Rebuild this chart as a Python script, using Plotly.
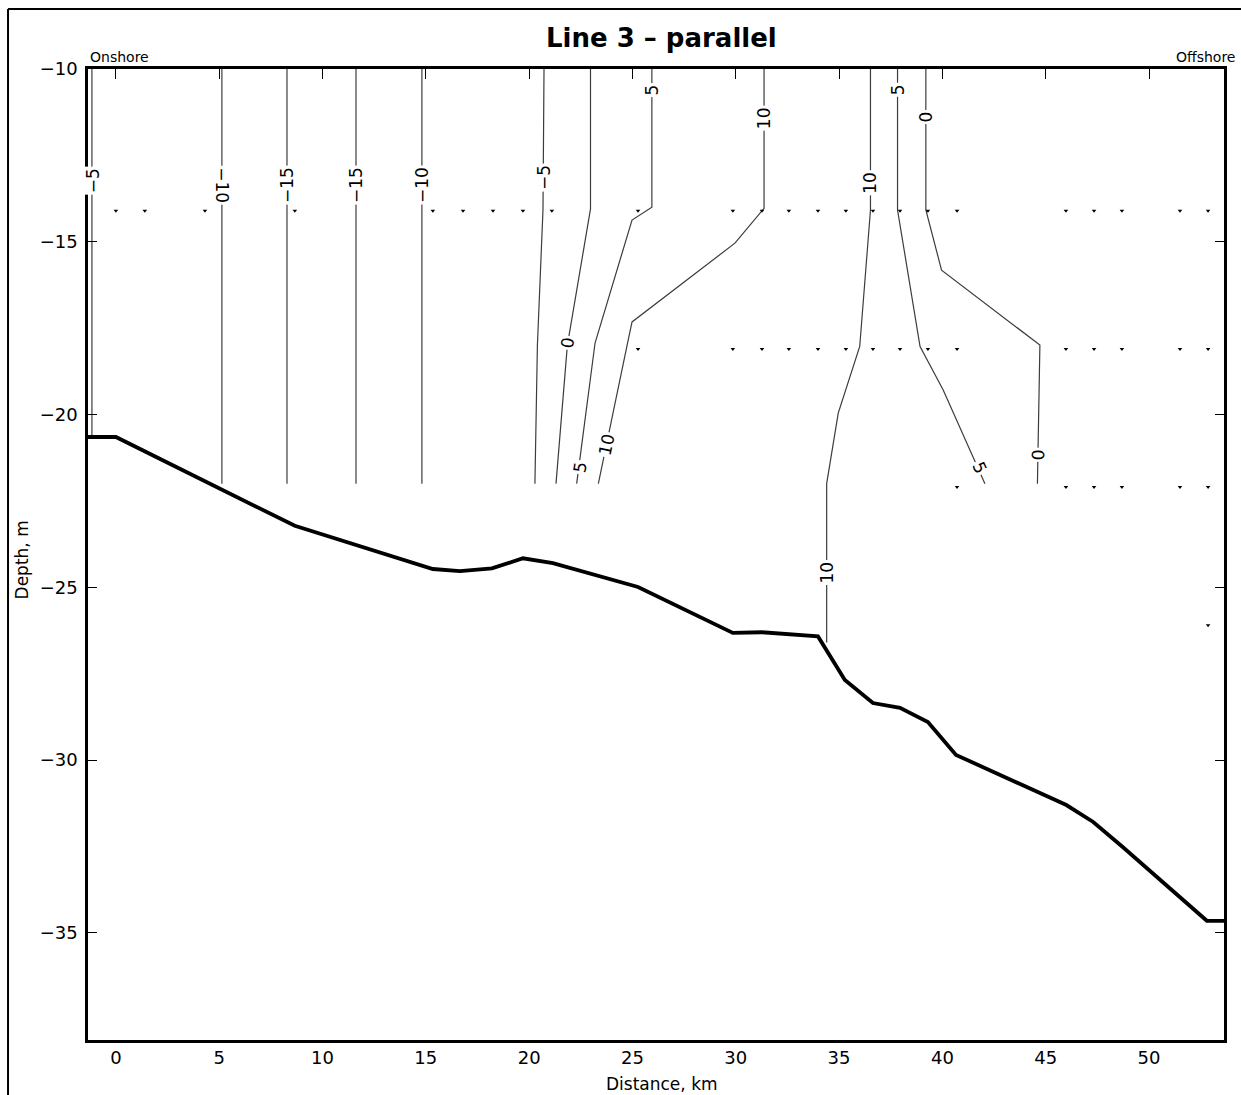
import plotly.graph_objects as go

# ---------------- data ----------------
# bathymetry (sea floor) profile
bathy_x = [-1.35, 0.0, 8.66, 15.34, 16.65, 18.2, 19.7, 21.15, 25.27, 29.86, 31.27,
           32.6, 33.98, 35.28, 36.64, 37.95, 39.3, 40.66, 46.0, 47.3, 48.7, 52.8, 53.63]
bathy_y = [-20.65, -20.65, -23.22, -24.47, -24.53, -24.45, -24.16, -24.3, -24.99, -26.32, -26.3,
           -26.35, -26.42, -27.68, -28.35, -28.49, -28.9, -29.85, -31.3, -31.79, -32.5, -34.65, -34.65]

# contour lines (level, x, y)
c1_x, c1_y = [-1.16, -1.16], [-10, -20.65]                     # -5
c2_x, c2_y = [5.13, 5.13], [-10, -22]                          # -10
c3_x, c3_y = [8.28, 8.28], [-10, -22]                          # -15
c4_x, c4_y = [11.62, 11.62], [-10, -22]                        # -15
c5_x, c5_y = [14.81, 14.81], [-10, -22]                        # -10
c6_x, c6_y = [20.72, 20.67, 20.4, 20.28], [-10, -14.08, -18, -22]          # -5
c7_x, c7_y = [22.97, 22.97, 21.85, 21.3], [-10, -14.05, -18.0, -22]        # 0
c8_x, c8_y = [25.94, 25.94, 24.98, 23.19, 22.3], [-10, -14.0, -14.37, -17.93, -22]   # 5
c9_x, c9_y = [31.37, 31.37, 29.96, 24.98, 24.74, 23.35], [-10, -14.03, -15.04, -17.32, -18, -22]  # 10
c10_x, c10_y = [36.52, 36.52, 36.0, 34.96, 34.4, 34.4], [-10, -14.08, -18.03, -19.96, -22, -26.6]  # 10
c11_x, c11_y = [37.83, 37.83, 38.92, 40.04, 42.06], [-10, -14.08, -18.03, -19.29, -22]            # 5
c12_x, c12_y = [39.2, 39.2, 39.96, 44.72, 44.6], [-10, -14.08, -15.82, -17.99, -22]               # 0

contour_xs = [c1_x, c2_x, c3_x, c4_x, c5_x, c6_x, c7_x, c8_x, c9_x, c10_x, c11_x, c12_x]
contour_ys = [c1_y, c2_y, c3_y, c4_y, c5_y, c6_y, c7_y, c8_y, c9_y, c10_y, c11_y, c12_y]

# contour labels
label_text = ["-5", "-10", "-15", "-15", "-10", "-5", "0", "5", "10", "5", "10",
              "10", "5", "0", "10", "5", "0"]
label_x = [-1.1, 5.13, 8.28, 11.62, 14.81, 20.7, 21.88, 22.46, 23.75, 25.94, 31.37,
           36.52, 37.83, 39.2, 34.4, 41.82, 44.64]
label_y = [-13.24, -13.36, -13.36, -13.36, -13.36, -13.14, -17.91, -21.51, -20.88, -10.6, -11.42,
           -13.28, -10.6, -11.38, -24.58, -21.55, -21.17]
label_angle = [-90, 90, -90, -90, -90, -90, -82, -82, -78, -90, -90,
               -90, -90, -90, -90, 65, -88]

# measurement points (small triangles) at each depth row
row1_x = [0, 1.4, 4.31, 8.66, 15.34, 16.8, 18.25, 19.7, 21.1, 25.27, 29.86, 31.27, 32.57,
          33.98, 35.33, 36.64, 37.95, 39.3, 40.71, 45.98, 47.34, 48.69, 51.5, 52.86]
row2_x = [25.27, 29.86, 31.27, 32.57, 33.98, 35.33, 36.64, 37.95, 39.3, 40.71, 45.98,
          47.34, 48.69, 51.5, 52.86]
row3_x = [40.71, 45.98, 47.34, 48.69, 51.5, 52.86]
row4_x = [52.86]
row_depths = [-14.1, -18.1, -22.1, -26.1]

x_ticks = [0, 5, 10, 15, 20, 25, 30, 35, 40, 45, 50]
y_ticks = [-35, -30, -25, -20, -15, -10]
x_range = [-1.35, 53.63]
y_range = [-38.1, -10]

FONT = "DejaVu Sans"

fig = go.Figure()

for cx, cy in zip(contour_xs, contour_ys):
    fig.add_trace(go.Scatter(x=cx, y=cy, mode="lines",
                             line=dict(color="#3c3c3c", width=1.2),
                             hoverinfo="skip", showlegend=False))

for rx, d in zip([row1_x, row2_x, row3_x, row4_x], row_depths):
    fig.add_trace(go.Scatter(x=rx, y=[d] * len(rx), mode="markers",
                             marker=dict(symbol="triangle-down", size=4, color="black"),
                             showlegend=False))

fig.add_trace(go.Scatter(x=bathy_x, y=bathy_y, mode="lines",
                         line=dict(color="black", width=3.8),
                         showlegend=False))

# invisible trace to anchor top axis (ticks only)
fig.add_trace(go.Scatter(x=x_range, y=y_range, xaxis="x2", mode="markers",
                         marker=dict(opacity=0), hoverinfo="skip", showlegend=False))

for t, x, y, a in zip(label_text, label_x, label_y, label_angle):
    fig.add_annotation(x=x, y=y, text=t.replace("-", "\u2212"), showarrow=False,
                       textangle=a, bgcolor="white", borderpad=1,
                       font=dict(family=FONT, size=17, color="black"))

fig.update_layout(
    width=1241, height=1095,
    margin=dict(l=88, r=17, t=69, b=55),
    paper_bgcolor="white", plot_bgcolor="white",
    font=dict(family=FONT, size=18, color="black"),
    xaxis=dict(range=x_range, tickvals=x_ticks, ticks="", showgrid=False, zeroline=False,
               showline=True, linecolor="black", linewidth=2.5, mirror=True,
               tickfont=dict(size=18)),
    xaxis2=dict(range=x_range, overlaying="x", side="top", tickvals=x_ticks,
                ticks="inside", ticklen=10, tickwidth=1, tickcolor="black",
                showticklabels=False, showgrid=False, zeroline=False, showline=False),
    yaxis=dict(range=y_range, tickvals=y_ticks, ticks="inside", ticklen=9, tickwidth=1,
               tickcolor="black", showgrid=False, zeroline=False,
               showline=True, linecolor="black", linewidth=2.5, mirror="ticks",
               tickfont=dict(size=18), ticklabelstandoff=4),
)

# titles and side labels
fig.add_annotation(xref="paper", yref="paper", x=0.505, y=1.032, yanchor="middle",
                   text="<b>Line 3 \u2013 parallel</b>", showarrow=False,
                   font=dict(family=FONT, size=26, color="black"))
fig.add_annotation(xref="paper", yref="paper", x=0.0, y=1.002, xanchor="left", yanchor="bottom",
                   text="Onshore", showarrow=False, font=dict(family=FONT, size=14))
fig.add_annotation(xref="paper", yref="paper", x=1.0114, y=1.002, xanchor="right", yanchor="bottom",
                   text="Offshore", showarrow=False, font=dict(family=FONT, size=14))
fig.add_annotation(xref="paper", yref="paper", x=-0.058, y=0.494, xanchor="center",
                   yanchor="middle", textangle=-90,
                   text="Depth, m", showarrow=False, font=dict(family=FONT, size=17))
fig.add_annotation(xref="paper", yref="paper", x=0.505, y=-0.045, yanchor="middle",
                   text="Distance, km", showarrow=False, font=dict(family=FONT, size=17))

# outer frame of the figure
fig.add_shape(type="line", xref="paper", yref="paper", x0=-0.0704, x1=-0.0704,
              y0=-0.1, y1=1.0618, line=dict(color="black", width=2))
fig.add_shape(type="line", xref="paper", yref="paper", x0=-0.0704, x1=1.05,
              y0=1.0618, y1=1.0618, line=dict(color="black", width=2))

fig.write_html("out.html")
